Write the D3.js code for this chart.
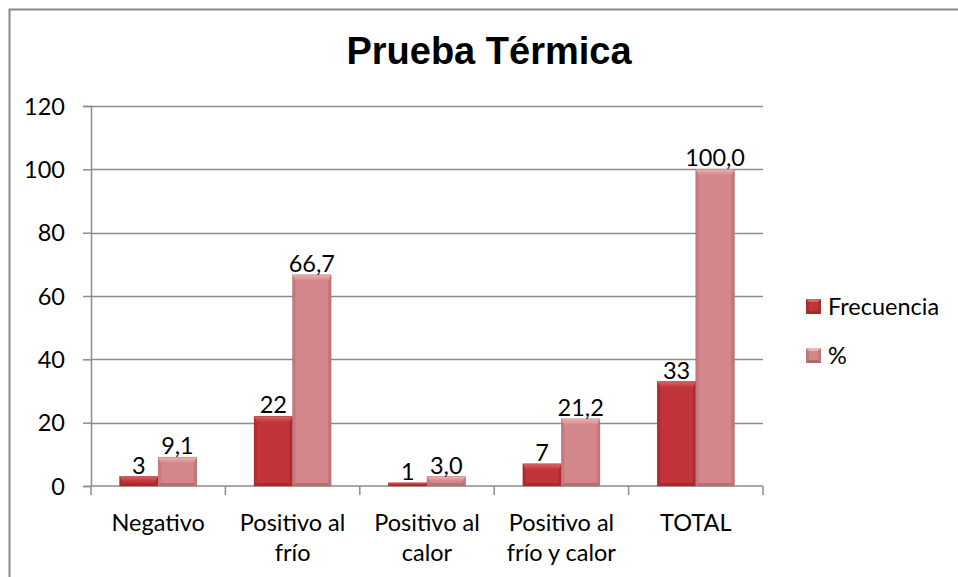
<!DOCTYPE html>
<html>
<head>
<meta charset="utf-8">
<script src="https://cdn.jsdelivr.net/npm/d3@7"></script>
<style>
  body { margin: 0; background: #fff; }
  svg { display: block; }
</style>
</head>
<body>
<div id="chart"></div>
<script>
// Content
const title = "Prueba Térmica";
const categories = ["Negativo", "Positivo al frío", "Positivo al calor", "Positivo al frío y calor", "TOTAL"];
const tickLabels = [["Negativo"], ["Positivo al", "frío"], ["Positivo al", "calor"], ["Positivo al", "frío y calor"], ["TOTAL"]];
const seriesNames = ["Frecuencia", "%"];
const frecuencia = [3, 22, 1, 7, 33];
const porcentaje = [9.1, 66.7, 3.0, 21.2, 100.0];
const yTicks = [0, 20, 40, 60, 80, 100, 120];

// Sizing
const width = 958, height = 577;
const plot = { left: 91, right: 763, top: 106, bottom: 486 };
const bevel = 6, sideBevel = 3;

// Colouring
const gridColor = "#8c8c8c";
const palette = {
  "Frecuencia": { main: "#c13438", light: "#d86465", dark: "#9c292c", side: "#aa2c30" },
  "%": { main: "#d4878a", light: "#ebb3b4", dark: "#ad6a6d", side: "#bf777a" }
};
const labelFont = "Lato, 'Open Sans', sans-serif";
const labelSize = "23.5px";

const locale = d3.formatLocale({ decimal: ",", thousands: ".", grouping: [3], currency: ["", ""] });
const fmt = {
  "Frecuencia": locale.format("d"),
  "%": locale.format(".1f")
};

const rows = categories.map((c, i) => ({ category: c, "Frecuencia": frecuencia[i], "%": porcentaje[i] }));

const svg = d3.select("#chart").append("svg")
  .attr("width", width)
  .attr("height", height);

// chart border (frame continues past the picture on right and bottom)
svg.append("rect")
  .attr("x", 9.5).attr("y", 9.5)
  .attr("width", 1100).attr("height", 700)
  .attr("fill", "#fff")
  .attr("stroke", "#8a8a8a")
  .attr("stroke-width", 2);

// title
svg.append("text")
  .attr("x", 489).attr("y", 64)
  .attr("text-anchor", "middle")
  .style("font-family", "'Liberation Sans', Arial, sans-serif")
  .style("font-weight", "bold")
  .style("font-size", "38px")
  .text(title);

/** Scales */
const x = d3.scaleBand()
  .domain(categories)
  .range([plot.left, plot.right])
  .padding(0);

const x1 = d3.scaleBand()
  .domain(seriesNames)
  .range([0, x.bandwidth()])
  .paddingInner(0)
  .paddingOuter(0.745);

const y = d3.scaleLinear()
  .domain([0, 120])
  .range([plot.bottom, plot.top]);

/** Gridlines */
svg.append("g").classed("grid", true)
  .selectAll("line")
  .data(yTicks.filter(t => t > 0))
  .enter().append("line")
  .attr("x1", plot.left)
  .attr("x2", plot.right)
  .attr("y1", d => Math.round(y(d)) + 0.5)
  .attr("y2", d => Math.round(y(d)) + 0.5)
  .attr("stroke", gridColor)
  .attr("stroke-width", 1.5);

/** Y-Axis */
const yAxis = svg.append("g").classed("axis", true)
  .attr("transform", "translate(" + plot.left + ",0)")
  .call(d3.axisLeft(y).tickValues(yTicks).tickSize(8).tickPadding(18).tickFormat(d3.format("d")));

/** X-Axis: ticks sit on category boundaries */
const xAxis = svg.append("g").classed("axis", true)
  .attr("transform", "translate(0," + plot.bottom + ")");

xAxis.append("line")
  .attr("x1", plot.left).attr("x2", plot.right)
  .attr("y1", 0).attr("y2", 0);

xAxis.selectAll(".xtick")
  .data(categories.concat(["__end"]))
  .enter().append("line")
  .attr("class", "xtick")
  .attr("x1", (d, i) => i < categories.length ? x(d) : plot.right)
  .attr("x2", (d, i) => i < categories.length ? x(d) : plot.right)
  .attr("y1", 0).attr("y2", 9);

xAxis.selectAll(".xlabel")
  .data(categories)
  .enter().append("text")
  .attr("class", "xlabel")
  .attr("text-anchor", "middle")
  .attr("x", d => x(d) + x.bandwidth() / 2)
  .attr("y", 45)
  .selectAll("tspan")
  .data((d, i) => tickLabels[i])
  .enter().append("tspan")
  .attr("x", function () { return d3.select(this.parentNode).attr("x"); })
  .attr("dy", (d, i) => i === 0 ? 0 : 30)
  .text(d => d);

//styling
svg.selectAll(".axis").select("path").style("stroke", gridColor).style("stroke-width", 1.5);
svg.selectAll(".axis").selectAll("line").style("stroke", gridColor).style("stroke-width", 1.5);
svg.selectAll(".axis").selectAll("text")
  .style("fill", "#000")
  .style("font-family", labelFont)
  .style("font-size", labelSize);
yAxis.selectAll("text").attr("dy", "0.35em");

/** Bevelled bars */
const defs = svg.append("defs");
seriesNames.forEach((s, i) => {
  const grad = defs.append("linearGradient")
    .attr("id", "top" + i)
    .attr("x1", 0).attr("y1", 0).attr("x2", 0).attr("y2", 1);
  grad.append("stop").attr("offset", "0%").attr("stop-color", palette[s].light);
  grad.append("stop").attr("offset", "100%").attr("stop-color", palette[s].main);
});

const bars = [];
rows.forEach(r => seriesNames.forEach(s => bars.push({ category: r.category, series: s, value: r[s] })));

const barG = svg.append("g").classed("bars", true)
  .selectAll("g")
  .data(bars)
  .enter().append("g")
  .attr("transform", d => "translate(" + (x(d.category) + x1(d.series)) + "," + y(d.value) + ")");

barG.each(function (d) {
  const g = d3.select(this);
  const w = x1.bandwidth();
  const h = y(0) - y(d.value);
  const b = Math.min(bevel, h / 2);
  const sb = Math.min(sideBevel, h / 2);
  const c = palette[d.series];
  g.append("rect").attr("width", w).attr("height", h).attr("fill", c.main);
  // left side
  g.append("polygon")
    .attr("points", [[0, 0], [sb, b], [sb, h - sb], [0, h]].join(" "))
    .attr("fill", c.side).attr("fill-opacity", 0.8);
  // right side
  g.append("polygon")
    .attr("points", [[w, 0], [w, h], [w - sb, h - sb], [w - sb, b]].join(" "))
    .attr("fill", c.side);
  // bottom
  g.append("polygon")
    .attr("points", [[0, h], [sb, h - sb], [w - sb, h - sb], [w, h]].join(" "))
    .attr("fill", c.dark).attr("fill-opacity", 0.8);
  // top face
  g.append("polygon")
    .attr("points", [[0, 0], [w, 0], [w - sb, b], [sb, b]].join(" "))
    .attr("fill", "url(#top" + seriesNames.indexOf(d.series) + ")");
  g.append("rect").attr("width", w).attr("height", h)
    .attr("fill", "none").attr("stroke", c.dark).attr("stroke-width", 0.7).attr("stroke-opacity", 0.5);
});

/** Value labels */
svg.append("g").classed("labels", true)
  .selectAll("text")
  .data(bars)
  .enter().append("text")
  .attr("x", d => x(d.category) + x1(d.series) + x1.bandwidth() / 2)
  .attr("y", d => y(d.value) - 3)
  .attr("text-anchor", "middle")
  .style("font-family", labelFont)
  .style("font-size", labelSize)
  .style("fill", "#000")
  .text(d => fmt[d.series](d.value));

/** Legend */
const legend = svg.append("g").classed("legend", true)
  .selectAll("g")
  .data(seriesNames)
  .enter().append("g")
  .attr("transform", (d, i) => "translate(806," + (299 + i * 49) + ")");

legend.append("rect").attr("width", 15).attr("height", 15).attr("fill", d => palette[d].side);
legend.append("polygon")
  .attr("points", "0,0 15,0 7.5,7.5")
  .attr("fill", d => palette[d].light);
legend.append("polygon")
  .attr("points", "0,15 15,15 7.5,7.5")
  .attr("fill", d => palette[d].dark);
legend.append("rect").attr("x", 3).attr("y", 3).attr("width", 9).attr("height", 9).attr("fill", d => palette[d].main);

legend.append("text")
  .attr("x", 22)
  .attr("y", 8)
  .attr("dy", "0.35em")
  .style("font-family", labelFont)
  .style("font-size", labelSize)
  .text(d => d);
</script>
</body>
</html>
